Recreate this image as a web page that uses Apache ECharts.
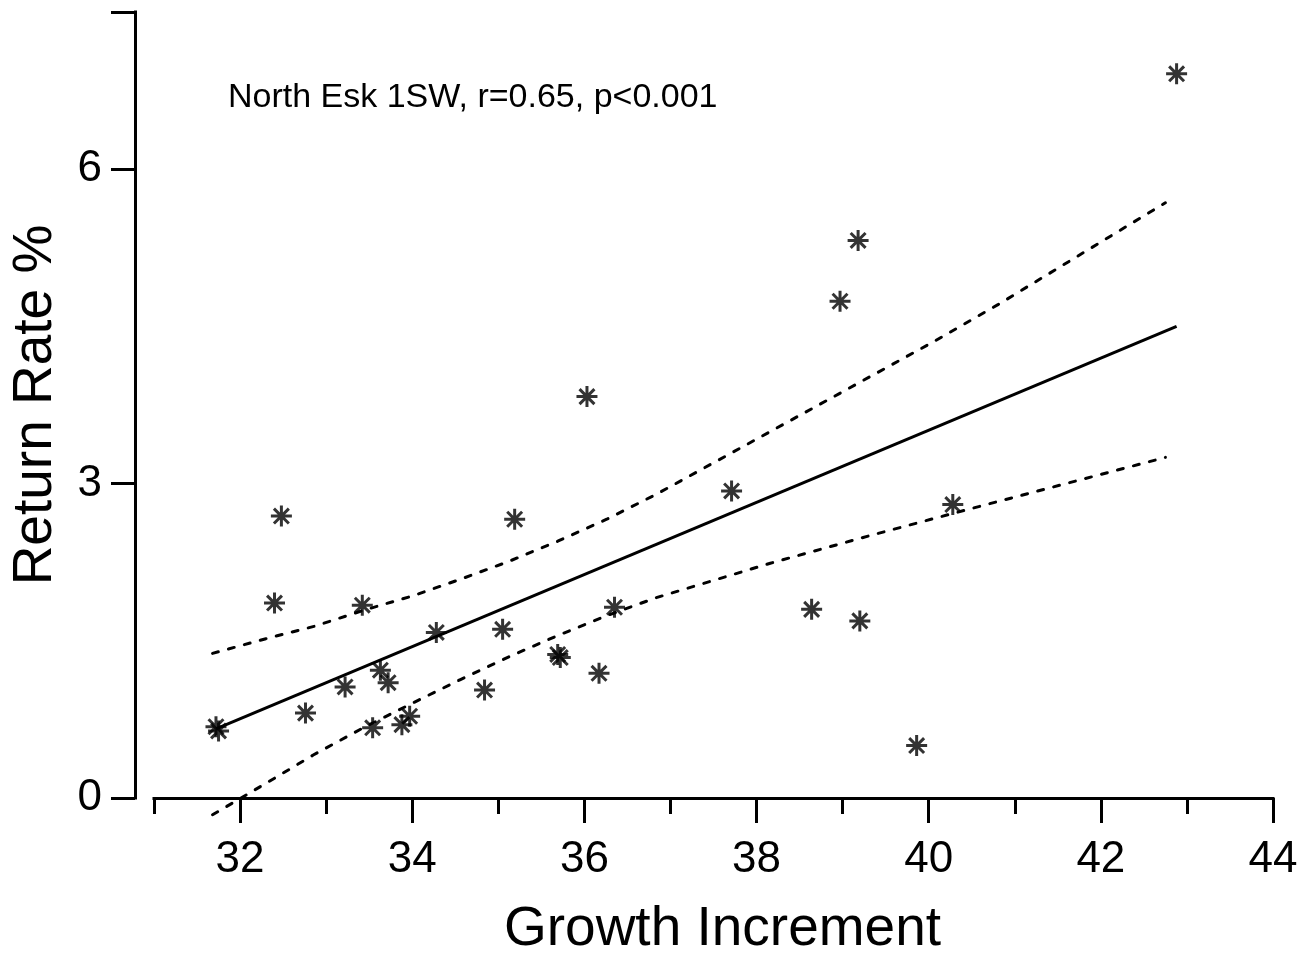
<!DOCTYPE html>
<html><head><meta charset="utf-8">
<script src="https://cdn.jsdelivr.net/npm/echarts@6/dist/echarts.min.js"></script>
<style>html,body{margin:0;padding:0;background:#fff}#c{width:1310px;height:962px}</style>
</head><body><div id="c"></div>
<script>
// ---- data ----
const growth = [42.88, 39.18, 38.97, 36.03, 37.71, 40.28, 32.48, 35.19, 32.40, 33.42,
                36.35, 38.64, 39.20, 34.28, 35.05, 35.69, 35.72, 33.63, 33.72, 33.22,
                36.17, 34.84, 32.76, 33.97, 33.88, 33.54, 31.72, 31.75, 39.86];
const returnRate = [6.91, 5.32, 4.74, 3.83, 2.93, 2.80, 2.69, 2.66, 1.86, 1.84,
                    1.82, 1.80, 1.69, 1.58, 1.61, 1.37, 1.34, 1.22, 1.10, 1.06,
                    1.19, 1.03, 0.81, 0.78, 0.70, 0.67, 0.68, 0.64, 0.50];
const fitX = [31.72, 42.88];
const fitY = [0.66, 4.50];
const upperX = [31.68, 32.30, 32.87, 33.43, 34.01, 34.57, 35.13, 35.69, 36.26, 36.84, 40.07, 40.81, 42.75];
const upperY = [1.38, 1.52, 1.64, 1.79, 1.93, 2.09, 2.26, 2.45, 2.66, 2.90, 4.36, 4.71, 5.68];
const lowerX = [31.68, 32.28, 32.85, 33.43, 33.99, 34.56, 35.13, 35.69, 36.26, 36.83, 38.16, 39.30, 40.44, 42.75];
const lowerY = [-0.16, 0.13, 0.41, 0.67, 0.90, 1.13, 1.35, 1.55, 1.74, 1.91, 2.24, 2.50, 2.75, 3.25];
const xMajorTicks = [32, 34, 36, 38, 40, 42, 44];
const xMinorTicks = [31, 33, 35, 37, 39, 41, 43];
const yTicks = [0, 3, 6, 7.5];
const yLabels = [0, 3, 6];
const annotation = 'North Esk 1SW, r=0.65, p<0.001';
const xTitle = 'Growth Increment';
const yTitle = 'Return Rate %';

// ---- chart ----
const FONT = 'Liberation Sans, Arial, sans-serif';
const zip = (a, b) => a.map((v, i) => [v, b[i]]);
const asterisk = 'path://M10 0L10 20M0 10L20 10M2.9 2.9L17.1 17.1M17.1 2.9L2.9 17.1';
const gridBox = {left: 154, right: 37, top: 12, bottom: 162};
const chart = echarts.init(document.getElementById('c'), null, {renderer: 'canvas'});
chart.setOption({
  backgroundColor: '#fff',
  animation: false,
  textStyle: {fontFamily: FONT, color: '#000'},
  grid: [Object.assign({containLabel: false}, gridBox), Object.assign({containLabel: false}, gridBox)],
  xAxis: [{
    type: 'value', gridIndex: 0, min: 31, max: 44, position: 'bottom',
    splitLine: {show: false},
    axisLine: {show: true, lineStyle: {color: '#000', width: 3, cap: 'square'}},
    axisTick: {show: true, customValues: xMajorTicks, length: 25, lineStyle: {color: '#000', width: 3}},
    axisLabel: {show: true, customValues: xMajorTicks, margin: 40, fontSize: 44, color: '#000', fontFamily: FONT},
    name: xTitle, nameLocation: 'middle', nameGap: 104,
    nameTextStyle: {fontSize: 55, color: '#000', fontFamily: FONT, padding: [0, 0, 0, 18]}
  }, {
    type: 'value', gridIndex: 1, min: 31, max: 44, position: 'bottom',
    splitLine: {show: false},
    axisLine: {show: false},
    axisTick: {show: true, customValues: xMinorTicks, length: 14, lineStyle: {color: '#000', width: 3}},
    axisLabel: {show: false}
  }],
  yAxis: [{
    type: 'value', gridIndex: 0, min: 0, max: 7.5, position: 'left', offset: 19,
    splitLine: {show: false},
    axisLine: {show: true, lineStyle: {color: '#000', width: 3, cap: 'square'}},
    axisTick: {show: true, customValues: yTicks, length: 24, lineStyle: {color: '#000', width: 3}},
    axisLabel: {show: true, customValues: yLabels, margin: 33, fontSize: 44, color: '#000', fontFamily: FONT},
    name: yTitle, nameLocation: 'middle', nameGap: 72,
    nameTextStyle: {fontSize: 55, color: '#000', fontFamily: FONT}
  }, {
    type: 'value', gridIndex: 1, min: 0, max: 7.5, show: false
  }],
  graphic: [{
    type: 'text', left: 228, top: 100 - 19,
    style: {text: annotation, fontSize: 34, fontFamily: FONT, fill: '#000'}
  }],
  series: [{
    type: 'line', name: 'fit', data: zip(fitX, fitY), showSymbol: false, symbol: 'none',
    lineStyle: {color: '#000', width: 3}, z: 3, clip: false
  }, {
    type: 'line', name: 'upper', data: zip(upperX, upperY), showSymbol: false, symbol: 'none',
    smooth: false, clip: false, lineStyle: {color: '#000', width: 3, type: [6, 10.5], cap: 'round'}, z: 3
  }, {
    type: 'line', name: 'lower', data: zip(lowerX, lowerY), showSymbol: false, symbol: 'none',
    smooth: false, clip: false, lineStyle: {color: '#000', width: 3, type: [6, 10.5], cap: 'round'}, z: 3
  }, {
    type: 'scatter', name: 'data', data: zip(growth, returnRate),
    symbol: asterisk, symbolSize: 21, clip: false,
    itemStyle: {color: 'rgba(0,0,0,0)', borderColor: '#000', borderWidth: 3}, z: 4
  }]
});
</script></body></html>
